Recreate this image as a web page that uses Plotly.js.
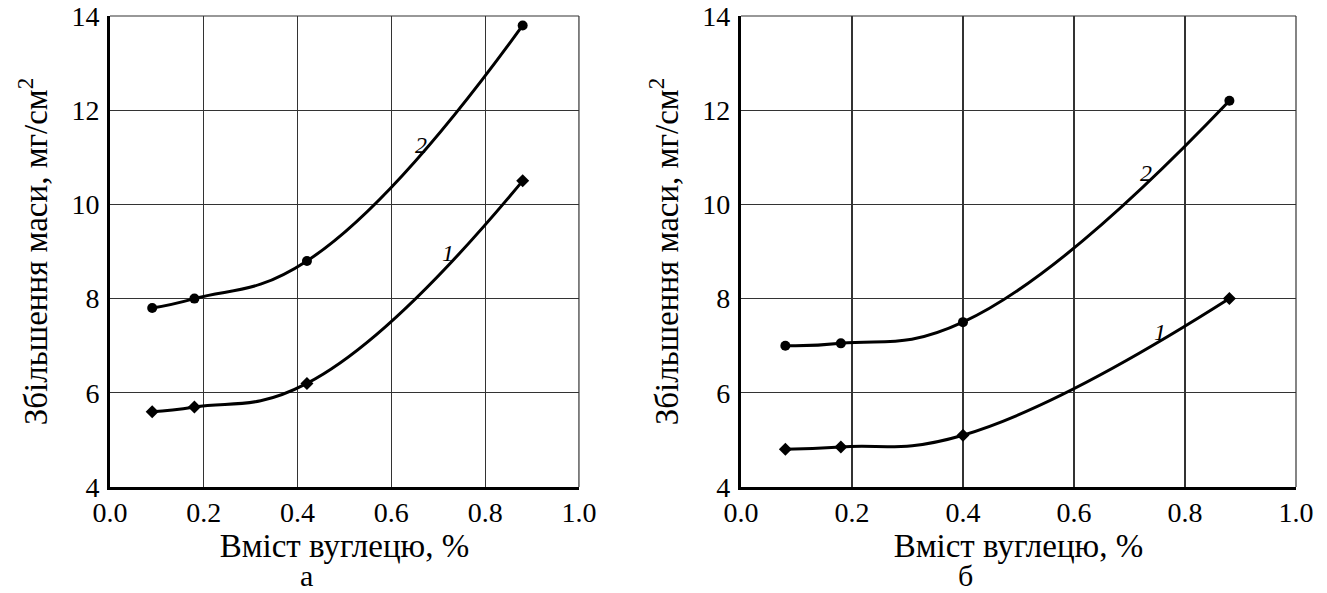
<!DOCTYPE html>
<html>
<head>
<meta charset="utf-8">
<script src="https://cdn.plot.ly/plotly-3.0.1.min.js"></script>
<style>html,body{margin:0;padding:0;background:#fff;}#chart{width:1327px;height:593px;}</style>
</head>
<body>
<div id="chart"></div>
<script>
// Panel "а"
const xA = [0.09, 0.18, 0.42, 0.88];
const yA1 = [5.6, 5.7, 6.2, 10.5];
const yA2 = [7.8, 8.0, 8.8, 13.8];
// Panel "б"
const xB = [0.08, 0.18, 0.40, 0.88];
const yB1 = [4.8, 4.85, 5.1, 8.0];
const yB2 = [7.0, 7.05, 7.5, 12.2];

const xTicks = [0.0, 0.2, 0.4, 0.6, 0.8, 1.0];
const yTicks = [4, 6, 8, 10, 12, 14];
const xTitle = 'Вміст вуглецю, %';
const yTitle = 'Збільшення маси, мг/см<sup>2</sup>';
const panelLabels = ['а', 'б'];
const curveLabels = ['1', '2'];

const FONT = 'Liberation Serif';
const lineStyle = {color: '#000', width: 3, shape: 'spline', smoothing: 1.3};
const circ = {symbol: 'circle', size: 10, color: '#000'};
const diam = {symbol: 'diamond', size: 10, color: '#000'};

const traces = [
  {x: xA, y: yA1, mode: 'lines+markers', line: lineStyle, marker: diam, xaxis: 'x', yaxis: 'y'},
  {x: xA, y: yA2, mode: 'lines+markers', line: lineStyle, marker: circ, xaxis: 'x', yaxis: 'y'},
  {x: xB, y: yB1, mode: 'lines+markers', line: lineStyle, marker: diam, xaxis: 'x2', yaxis: 'y2'},
  {x: xB, y: yB2, mode: 'lines+markers', line: lineStyle, marker: circ, xaxis: 'x2', yaxis: 'y2'}
];

function xax(domain, anchor) {
  return {
    domain: domain, anchor: anchor, range: [0, 1.0],
    tickvals: xTicks, ticktext: xTicks.map(v => v.toFixed(1)),
    showline: true, linecolor: '#000', linewidth: 3,
    showgrid: true, gridcolor: '#333', gridwidth: 1.2,
    zeroline: false, ticks: '', ticklabelstandoff: -2,
    tickfont: {family: FONT, size: 28, color: '#000'},
    title: {text: xTitle, font: {family: FONT, size: 33, color: '#000'}, standoff: 0}
  };
}
function yax(domain, anchor) {
  return {
    domain: domain, anchor: anchor, range: [4, 14],
    tickvals: yTicks,
    showline: true, linecolor: '#000', linewidth: 3,
    showgrid: true, gridcolor: '#333', gridwidth: 1.2,
    zeroline: false, ticks: '', ticklabelstandoff: 2,
    tickfont: {family: FONT, size: 28, color: '#000'},
    title: {text: yTitle, font: {family: FONT, size: 33, color: '#000'}, standoff: 14}
  };
}

const annFont = {family: FONT, size: 24, color: '#000', style: 'italic'};
const panelFont = {family: FONT, size: 30, color: '#000'};
const layout = {
  width: 1327, height: 593,
  margin: {l: 110, r: 31, t: 16, b: 106},
  paper_bgcolor: '#fff', plot_bgcolor: '#fff',
  showlegend: false,
  xaxis: xax([0, 0.3954], 'y'),
  yaxis: yax([0, 1], 'x'),
  xaxis2: xax([0.532, 1.0], 'y2'),
  yaxis2: yax([0, 1], 'x2'),
  shapes: [
    {type: 'line', xref: 'x domain', yref: 'y domain', x0: 0, x1: 1, y0: 1, y1: 1, line: {color: '#333', width: 1.2}},
    {type: 'line', xref: 'x domain', yref: 'y domain', x0: 1, x1: 1, y0: 0, y1: 1, line: {color: '#333', width: 1.2}},
    {type: 'line', xref: 'x2 domain', yref: 'y2 domain', x0: 0, x1: 1, y0: 1, y1: 1, line: {color: '#333', width: 1.2}},
    {type: 'line', xref: 'x2 domain', yref: 'y2 domain', x0: 1, x1: 1, y0: 0, y1: 1, line: {color: '#333', width: 1.2}}
  ],
  annotations: [
    {xref: 'x', yref: 'y', x: 0.663, y: 11.26, text: curveLabels[1], showarrow: false, font: annFont},
    {xref: 'x', yref: 'y', x: 0.72, y: 8.97, text: curveLabels[0], showarrow: false, font: annFont},
    {xref: 'x2', yref: 'y2', x: 0.73, y: 10.67, text: curveLabels[1], showarrow: false, font: annFont},
    {xref: 'x2', yref: 'y2', x: 0.755, y: 7.29, text: curveLabels[0], showarrow: false, font: annFont},
    {xref: 'x domain', yref: 'paper', x: 0.42, y: -0.225, yanchor: 'bottom', borderpad: 0, text: panelLabels[0], showarrow: false, font: panelFont},
    {xref: 'x2 domain', yref: 'paper', x: 0.405, y: -0.225, yanchor: 'bottom', borderpad: 0, text: panelLabels[1], showarrow: false, font: panelFont}
  ]
};

function draw() { Plotly.newPlot('chart', traces, layout, {staticPlot: true, displayModeBar: false}); }
if (document.fonts && document.fonts.load) {
  document.fonts.load('28px "Liberation Serif"', 'Вміст 0.0').then(draw, draw);
} else { draw(); }
</script>
</body>
</html>
